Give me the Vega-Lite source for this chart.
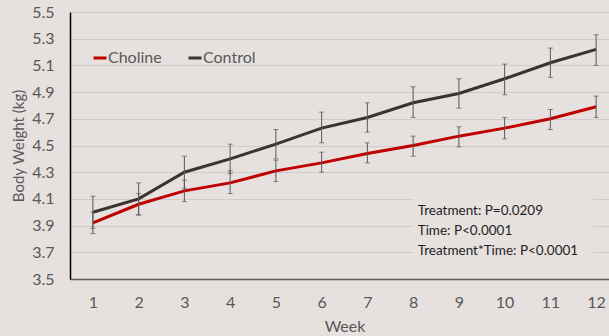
{
 "$schema": "https://vega.github.io/schema/vega-lite/v6.json",
 "width": 549,
 "height": 267,
 "autosize": {"type": "none"},
 "padding": {"left": 70, "top": 12, "right": 0, "bottom": 57},
 "background": "#e6e0de",
 "config": {"view": {"stroke": null}, "font": "Lato"},
 "data": {"values": [
  {"week": 1, "group": "Choline", "mean": 3.92, "lo": 3.84, "hi": 4.00},
  {"week": 2, "group": "Choline", "mean": 4.06, "lo": 3.98, "hi": 4.14},
  {"week": 3, "group": "Choline", "mean": 4.16, "lo": 4.08, "hi": 4.24},
  {"week": 4, "group": "Choline", "mean": 4.22, "lo": 4.14, "hi": 4.31},
  {"week": 5, "group": "Choline", "mean": 4.31, "lo": 4.23, "hi": 4.39},
  {"week": 6, "group": "Choline", "mean": 4.37, "lo": 4.30, "hi": 4.45},
  {"week": 7, "group": "Choline", "mean": 4.44, "lo": 4.37, "hi": 4.52},
  {"week": 8, "group": "Choline", "mean": 4.50, "lo": 4.42, "hi": 4.57},
  {"week": 9, "group": "Choline", "mean": 4.57, "lo": 4.49, "hi": 4.64},
  {"week": 10, "group": "Choline", "mean": 4.63, "lo": 4.55, "hi": 4.71},
  {"week": 11, "group": "Choline", "mean": 4.70, "lo": 4.62, "hi": 4.77},
  {"week": 12, "group": "Choline", "mean": 4.79, "lo": 4.71, "hi": 4.87},
  {"week": 1, "group": "Control", "mean": 4.00, "lo": 3.88, "hi": 4.12},
  {"week": 2, "group": "Control", "mean": 4.10, "lo": 3.98, "hi": 4.22},
  {"week": 3, "group": "Control", "mean": 4.30, "lo": 4.18, "hi": 4.42},
  {"week": 4, "group": "Control", "mean": 4.40, "lo": 4.29, "hi": 4.51},
  {"week": 5, "group": "Control", "mean": 4.51, "lo": 4.40, "hi": 4.62},
  {"week": 6, "group": "Control", "mean": 4.63, "lo": 4.52, "hi": 4.75},
  {"week": 7, "group": "Control", "mean": 4.71, "lo": 4.60, "hi": 4.82},
  {"week": 8, "group": "Control", "mean": 4.82, "lo": 4.71, "hi": 4.94},
  {"week": 9, "group": "Control", "mean": 4.89, "lo": 4.78, "hi": 5.00},
  {"week": 10, "group": "Control", "mean": 5.00, "lo": 4.88, "hi": 5.11},
  {"week": 11, "group": "Control", "mean": 5.12, "lo": 5.01, "hi": 5.23},
  {"week": 12, "group": "Control", "mean": 5.22, "lo": 5.10, "hi": 5.33}
 ]},
 "layer": [
  {"mark": {"type": "line", "strokeWidth": 3},
   "encoding": {
    "x": {"field": "week", "type": "quantitative",
     "scale": {"domain": [0.5, 12.5], "nice": false, "zero": false},
     "axis": {"values": [1,2,3,4,5,6,7,8,9,10,11,12], "tickCount": 12, "grid": false, "ticks": false, "labelOverlap": false,
      "domainColor": "#595959", "domainWidth": 1.5, "labelFontSize": 16, "labelColor": "#595959",
      "labelPadding": 15, "title": "Week", "titleFontSize": 16, "titleFontWeight": "normal",
      "titleColor": "#595959", "titlePadding": 8}},
    "y": {"field": "mean", "type": "quantitative",
     "scale": {"domain": [3.5, 5.5], "nice": false, "zero": false},
     "axis": {"values": [3.5,3.7,3.9,4.1,4.3,4.5,4.7,4.9,5.1,5.3,5.5], "tickCount": 11, "format": ".1f", "labelOverlap": false,
      "grid": true, "gridColor": "#d3cbc9", "gridWidth": 1, "ticks": false,
      "domainColor": "#000000", "domainWidth": 1.5, "labelFontSize": 16, "labelColor": "#595959",
      "labelPadding": 16, "title": "Body Weight (kg)", "titleFontSize": 15, "titleFontWeight": "normal",
      "titleColor": "#595959", "titlePadding": 5}},
    "color": {"field": "group", "type": "nominal",
     "scale": {"domain": ["Choline", "Control"], "range": ["#c00000", "#3a3330"]},
     "legend": {"orient": "none", "legendX": 22, "legendY": 38, "direction": "horizontal", "title": null,
      "symbolType": "stroke", "symbolStrokeWidth": 3, "symbolSize": 169, "labelFontSize": 16,
      "labelColor": "#595959", "columnPadding": 20, "labelOffset": 0}}
   }},
  {"mark": {"type": "rule", "color": "#595959", "strokeWidth": 1},
   "encoding": {"x": {"field": "week", "type": "quantitative"}, "y": {"field": "lo", "type": "quantitative"}, "y2": {"field": "hi"}}},
  {"mark": {"type": "tick", "color": "#595959", "thickness": 1, "size": 5, "orient": "horizontal"},
   "encoding": {"x": {"field": "week", "type": "quantitative"}, "y": {"field": "lo", "type": "quantitative"}}},
  {"mark": {"type": "tick", "color": "#595959", "thickness": 1, "size": 5, "orient": "horizontal"},
   "encoding": {"x": {"field": "week", "type": "quantitative"}, "y": {"field": "hi", "type": "quantitative"}}},
  {"data": {"values": [{"a": 1}]},
   "mark": {"type": "rect", "fill": "#e6e0de"},
   "encoding": {"x": {"datum": 8.0}, "x2": {"datum": 11.94},
    "y": {"datum": 3.68}, "y2": {"datum": 4.10}}},
  {"data": {"values": [{"a": 1}]},
   "mark": {"type": "text", "align": "left", "baseline": "top", "fontSize": 13.5, "lineHeight": 20, "color": "#1e1e1e"},
   "encoding": {"x": {"datum": 8.1}, "y": {"datum": 4.065},
    "text": {"value": ["Treatment: P=0.0209", "Time: P<0.0001", "Treatment*Time: P<0.0001"]}}}
 ]
}
